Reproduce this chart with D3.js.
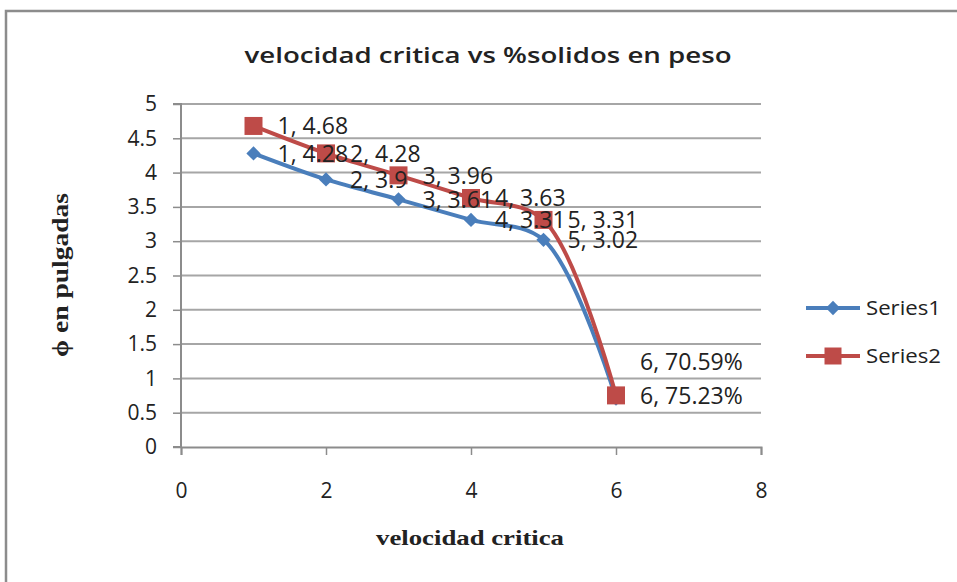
<!DOCTYPE html>
<html>
<head>
<meta charset="utf-8">
<script src="https://cdn.jsdelivr.net/npm/d3@7/dist/d3.min.js"></script>
<style>
  body { margin: 0; background: #fff; }
  text { font-family: "Open Sans", sans-serif; fill: #222; }
</style>
</head>
<body>
<div id="chart"></div>
<script>
var width = 957,
    height = 582;

// valores
var xVals = [1, 2, 3, 4, 5, 6];
var serie1 = [4.28, 3.9, 3.61, 3.31, 3.02, 0.7059];
var serie2 = [4.68, 4.28, 3.96, 3.63, 3.31, 0.7523];
var etiquetas1 = ["1, 4.28", "2, 3.9", "3, 3.61", "4, 3.31", "5, 3.02", "6, 70.59%"];
var etiquetas2 = ["1, 4.68", "2, 4.28", "3, 3.96", "4, 3.63", "5, 3.31", "6, 75.23%"];
var nombres = ["Series1", "Series2"];
var colores = ["#4a7ebb", "#be4b48"];
var yTicks = [0, 0.5, 1, 1.5, 2, 2.5, 3, 3.5, 4, 4.5, 5];
var xTicks = [0, 2, 4, 6, 8];

var x = d3.scaleLinear().domain([0, 8]).range([181, 761]);
var y = d3.scaleLinear().domain([0, 5]).range([447, 104]);

var svg = d3.select("#chart").append("svg")
    .attr("width", width)
    .attr("height", height);

// marco
svg.append("rect")
    .attr("x", 6).attr("y", 11)
    .attr("width", 970).attr("height", 600)
    .attr("fill", "none")
    .attr("stroke", "#8c8c8c")
    .attr("stroke-width", 2.5);

// titulo
svg.append("text")
    .attr("x", 488).attr("y", 63)
    .attr("text-anchor", "middle")
    .attr("textLength", 487)
    .attr("lengthAdjust", "spacingAndGlyphs")
    .style("font-size", "22px")
    .style("font-weight", "600")
    .text("velocidad critica vs %solidos  en peso");

// rejilla
svg.append("g").selectAll("line")
    .data(yTicks.slice(1))
    .enter().append("line")
    .attr("x1", x(0)).attr("x2", x(8))
    .attr("y1", d => y(d)).attr("y2", d => y(d))
    .attr("stroke", "#a6a6a6")
    .attr("stroke-width", 2);

// eje y
var ejeY = svg.append("g")
    .attr("transform", "translate(" + x(0) + ",0)")
    .call(d3.axisLeft(y).tickValues(yTicks).tickFormat(d3.format("")).tickSize(8).tickPadding(16));

// eje x
var ejeX = svg.append("g")
    .attr("transform", "translate(0," + y(0) + ")")
    .call(d3.axisBottom(x).tickValues(xTicks).tickSize(8).tickPadding(28));

[ejeY, ejeX].forEach(function (g) {
    g.select(".domain").attr("stroke", "#8c8c8c").attr("stroke-width", 2);
    g.selectAll(".tick line").attr("stroke", "#8c8c8c").attr("stroke-width", 1.5);
    g.selectAll(".tick text")
        .style("font-family", "'Open Sans', sans-serif")
        .style("font-size", "21px")
        .attr("fill", "#222");
});
ejeY.select(".domain").attr("d", "M-8," + y(5) + "H0V" + y(0) + "H-8");

// titulos de ejes
svg.append("text")
    .attr("transform", "translate(68,275) rotate(-90)")
    .attr("text-anchor", "middle")
    .attr("textLength", 164)
    .attr("lengthAdjust", "spacingAndGlyphs")
    .style("font-family", "'Liberation Serif', serif")
    .style("font-weight", "bold")
    .style("font-size", "23px")
    .text("\u03d5 en pulgadas");

svg.append("text")
    .attr("x", 470).attr("y", 545)
    .attr("text-anchor", "middle")
    .attr("textLength", 188)
    .attr("lengthAdjust", "spacingAndGlyphs")
    .style("font-family", "'Liberation Serif', serif")
    .style("font-weight", "bold")
    .style("font-size", "21px")
    .text("velocidad critica");

var linea = d3.line()
    .x(d => x(d[0]))
    .y(d => y(d[1]))
    .curve(d3.curveCatmullRom.alpha(0.5));

var series = [serie1, serie2].map((s, i) => ({
    nombre: nombres[i],
    color: colores[i],
    puntos: xVals.map((v, j) => [v, s[j]]),
    etiquetas: i === 0 ? etiquetas1 : etiquetas2
}));

var diamante = d3.symbol().type(d3.symbolDiamond2).size(130);
var cuadrado = d3.symbol().type(d3.symbolSquare).size(324);

series.forEach(function (s, i) {
    svg.append("path")
        .attr("d", linea(s.puntos))
        .attr("fill", "none")
        .attr("stroke", s.color)
        .attr("stroke-width", 4);
    svg.append("g").selectAll("path")
        .data(s.puntos)
        .enter().append("path")
        .attr("transform", d => "translate(" + x(d[0]) + "," + y(d[1]) + ")")
        .attr("d", i === 0 ? diamante : cuadrado)
        .attr("fill", s.color);
});

// etiquetas de datos (la ultima de Series1 se desplaza hacia arriba)
series.forEach(function (s, i) {
    svg.append("g").selectAll("text")
        .data(s.puntos)
        .enter().append("text")
        .attr("x", d => x(d[0]) + 24)
        .attr("y", (d, j) => y(d[1]) + (i === 0 && j === 5 ? -37 : 0))
        .attr("dy", "0.36em")
        .style("font-size", "23px")
        .text((d, j) => s.etiquetas[j]);
});

// leyenda
var leyenda = svg.append("g").selectAll("g")
    .data(series)
    .enter().append("g")
    .attr("transform", (d, i) => "translate(806," + (308 + i * 48) + ")");
leyenda.append("line")
    .attr("x1", 0).attr("x2", 54)
    .attr("stroke", d => d.color)
    .attr("stroke-width", 4);
leyenda.append("path")
    .attr("transform", "translate(27,0)")
    .attr("d", (d, i) => i === 0 ? diamante() : d3.symbol().type(d3.symbolSquare).size(289)())
    .attr("fill", d => d.color);
leyenda.append("text")
    .attr("x", 60)
    .attr("dy", "0.36em")
    .attr("textLength", 75)
    .attr("lengthAdjust", "spacingAndGlyphs")
    .style("font-size", "20px")
    .text(d => d.nombre);
</script>
</body>
</html>
